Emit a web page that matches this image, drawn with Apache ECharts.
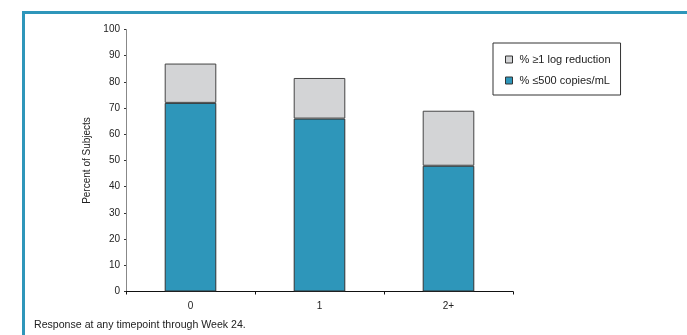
<!DOCTYPE html>
<html>
<head>
<meta charset="utf-8">
<script src="https://cdn.jsdelivr.net/npm/echarts@6/dist/echarts.min.js"></script>
<style>
  html, body { margin: 0; padding: 0; background: #fff; }
  #chart { width: 687px; height: 335px; }
</style>
</head>
<body>
<div id="chart"></div>
<script>
// Number of prior regimens vs. virologic response
const categories = ['0', '1', '2+'];
const pctBelow500 = [72, 66, 48];       // % ≤500 copies/mL
const pctLogReduction = [87, 81.5, 69]; // % ≥1 log reduction (full bar height)
const yTicks = [0, 10, 20, 30, 40, 50, 60, 70, 80, 90, 100];

const FONT = '"Liberation Sans Narrow", "Liberation Sans", Arial, sans-serif';
const BLUE = '#2E96BA';
const GREY = '#D3D4D6';

// the grey segment sits on top of the blue one, reaching the ≥1 log total
const greyPart = pctLogReduction.map((v, i) => +(v - pctBelow500[i]).toFixed(2));

const chart = echarts.init(document.getElementById('chart'), null, { renderer: 'canvas' });
chart.setOption({
  animation: false,
  textStyle: { fontFamily: FONT },
  grid: { left: 126, right: 174, top: 29.5, bottom: 43.5, containLabel: false },
  legend: {
    orient: 'vertical',
    left: 493, top: 43,
    width: 129, height: 51,
    padding: [11, 10, 9, 12],
    itemGap: 10,
    itemWidth: 7, itemHeight: 7,
    icon: 'rect',
    borderColor: '#333', borderWidth: 1,
    textStyle: { fontFamily: FONT, fontSize: 11, color: '#222', padding: [0, 0, 0, 2] },
    data: [
      { name: '% ≥1 log reduction', itemStyle: { color: GREY, borderColor: '#333', borderWidth: 1 } },
      { name: '% ≤500 copies/mL', itemStyle: { color: BLUE, borderColor: '#333', borderWidth: 1 } }
    ]
  },
  xAxis: {
    type: 'category',
    data: categories,
    boundaryGap: true,
    axisLine: { lineStyle: { color: '#111', width: 1 } },
    axisTick: { show: true, length: 3, lineStyle: { color: '#111' } },
    axisLabel: { fontFamily: FONT, fontSize: 10, color: '#222', margin: 10 }
  },
  yAxis: {
    type: 'value',
    min: yTicks[0], max: yTicks[yTicks.length - 1], interval: 10,
    name: 'Percent of Subjects',
    nameLocation: 'middle',
    nameGap: 33,
    nameRotate: 90,
    nameTextStyle: { fontFamily: FONT, fontSize: 10, color: '#222' },
    splitLine: { show: false },
    axisLine: { show: true, lineStyle: { color: '#888', width: 1 } },
    axisTick: { show: true, length: 2, lineStyle: { color: '#333' } },
    axisLabel: { fontFamily: FONT, fontSize: 10, color: '#222', margin: 6 }
  },
  series: [
    {
      name: '% ≤500 copies/mL',
      type: 'bar',
      stack: 'resp',
      barWidth: '40%',
      data: pctBelow500,
      itemStyle: { color: BLUE, borderColor: '#333', borderWidth: 1 }
    },
    {
      name: '% ≥1 log reduction',
      type: 'bar',
      stack: 'resp',
      barWidth: '40%',
      data: greyPart,
      itemStyle: { color: GREY, borderColor: '#444', borderWidth: 1 }
    }
  ],
  graphic: [
    // frame edges
    { type: 'rect', shape: { x: 22, y: 11, width: 665, height: 3 }, style: { fill: BLUE } },
    { type: 'rect', shape: { x: 22, y: 11, width: 3, height: 324 }, style: { fill: BLUE } },
    {
      type: 'text', left: 34, top: 320,
      style: { text: 'Response at any timepoint through Week 24.', font: '10.6px ' + FONT, fill: '#222' }
    }
  ]
});
</script>
</body>
</html>
